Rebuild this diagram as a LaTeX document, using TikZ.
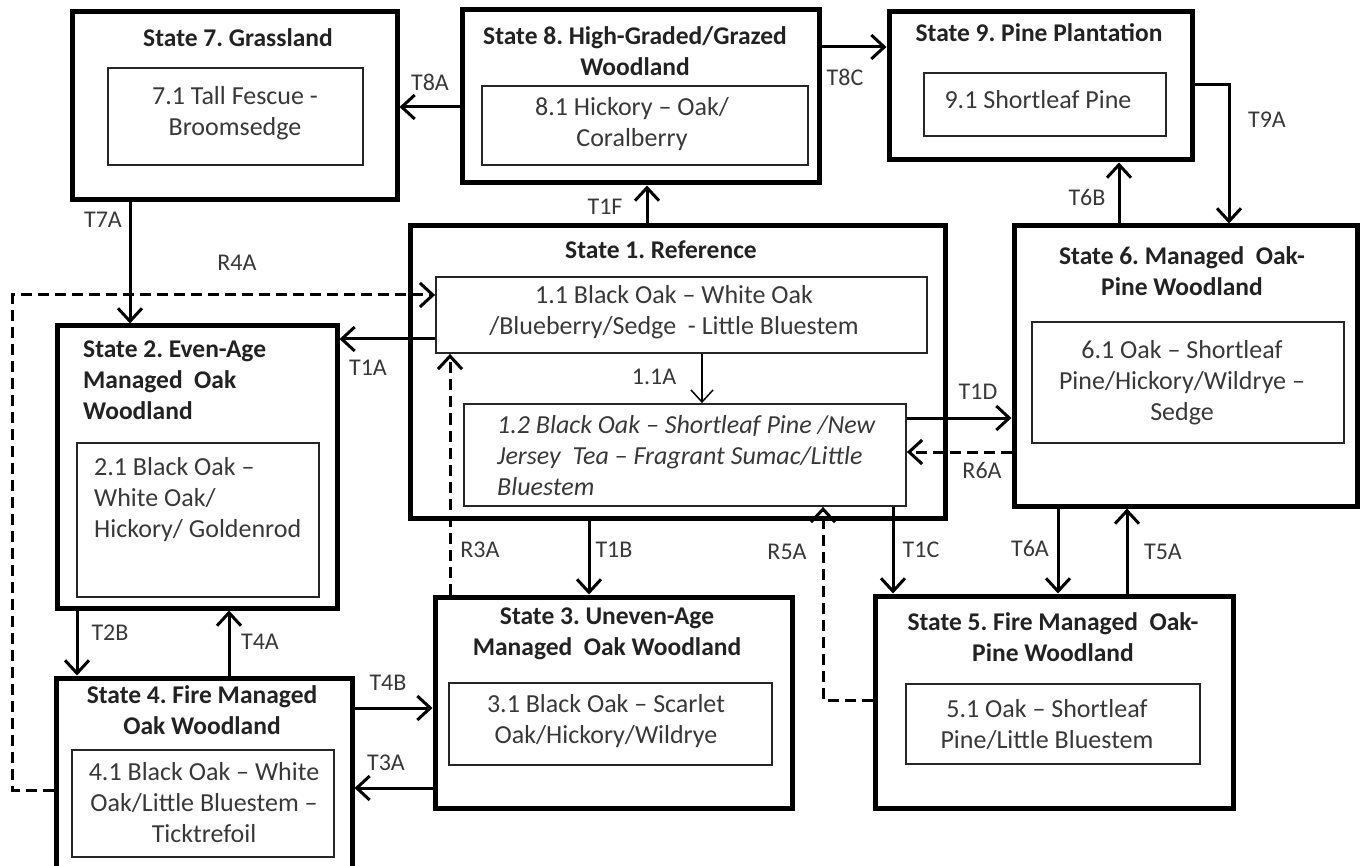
\documentclass[tikz,border=0pt]{standalone}
\usepackage{fontspec}
\setmainfont{Carlito}
\usetikzlibrary{arrows.meta,calc}
\frenchspacing
\newcommand\ttlfont{\frenchspacing\bfseries\fontsize{25.5}{31}\selectfont}
\newcommand\txtfont{\frenchspacing\fontsize{26}{31}\selectfont}
\newcommand\lblfont{\fontsize{24}{28}\selectfont}
\definecolor{ink}{HTML}{222222}
\definecolor{txtgray}{HTML}{383838}
\tikzset{
  outerbox/.style={draw=black, line width=5pt, rectangle, inner sep=0pt, fill=white},
  innerbox/.style={draw=black!85, line width=1.8pt, rectangle, inner sep=0pt},
  ttl/.style={font=\ttlfont, align=center, text=ink, inner sep=0pt},
  txt/.style={font=\txtfont, align=center, text=txtgray, inner sep=0pt},
  lbl/.style={font=\lblfont, text=txtgray, inner sep=0pt},
  arr/.style={line width=3pt, draw=black, -{Straight Barb[length=13pt,width=24pt,line width=3pt]}},
  darr/.style={arr, dash pattern=on 11pt off 6pt},
}
\begin{document}
\begin{tikzpicture}[x=1pt,y=-1pt]
\useasboundingbox (0,0) rectangle (1360,866);
\fill[white] (0,0) rectangle (1360,866);
\clip (0,0) rectangle (1360,866);

% ---------- boxes ----------
\node[outerbox, minimum width=325pt, minimum height=188pt] (s7) at (234.5,106) {};
\node[innerbox, minimum width=255pt, minimum height=97pt] (i7) at (235.5,116.5) {};
\node[outerbox, minimum width=357pt, minimum height=173pt] (s8) at (640.5,96.5) {};
\node[innerbox, minimum width=326pt, minimum height=79pt] (i8) at (645,125.5) {};
\node[outerbox, minimum width=303pt, minimum height=148pt] (s9) at (1040.5,86) {};
\node[innerbox, minimum width=242pt, minimum height=63pt] (i9) at (1045,104.5) {};
\node[outerbox, minimum width=535pt, minimum height=292pt] (s1) at (677.5,372) {};
\node[innerbox, minimum width=491pt, minimum height=76pt] (i11) at (681.5,315) {};
\node[innerbox, minimum width=442pt, minimum height=102pt] (i12) at (685,455) {};
\node[outerbox, minimum width=343pt, minimum height=280pt] (s6) at (1185.5,366) {};
\node[innerbox, minimum width=312pt, minimum height=121pt] (i6) at (1188,382.5) {};
\node[outerbox, minimum width=280pt, minimum height=282pt] (s2) at (197,467) {};
\node[innerbox, minimum width=242pt, minimum height=154pt] (i2) at (198,520) {};
\node[outerbox, minimum width=296pt, minimum height=202pt] (s4) at (204,779) {};
\node[innerbox, minimum width=262pt, minimum height=107pt] (i4) at (203,803.5) {};
\node[outerbox, minimum width=357pt, minimum height=211pt] (s3) at (613.5,702.5) {};
\node[innerbox, minimum width=323pt, minimum height=82pt] (i3) at (610.5,724) {};
\node[outerbox, minimum width=358pt, minimum height=212pt] (s5) at (1054,702) {};
\node[innerbox, minimum width=294pt, minimum height=80pt] (i5) at (1053,724) {};

% ---------- texts ----------
\node[ttl] (t7) at (238,38) {State 7. Grassland};
\node[txt] (x7) at (235,113.5) {7.1 Tall Fescue -\\Broomsedge};
\node[ttl] (t8) at (635,51) {State 8. High-Graded/Grazed\\Woodland};
\node[txt] (x8) at (632,124) {8.1 Hickory – Oak/\\Coralberry};
\node[ttl] (t9) at (1039,33) {State 9. Pine Plantation};
\node[txt] (x9) at (1038,100) {9.1 Shortleaf Pine};
\node[ttl] (t1) at (661,250) {State 1. Reference};
\node[txt] (x11) at (674,312.5) {1.1 Black Oak – White Oak\\/Blueberry/Sedge~ - Little Bluestem};
\node[txt, align=left, anchor=west, font=\txtfont\itshape] (x12) at (497,455.5) {1.2 Black Oak – Shortleaf Pine /New\\Jersey~ Tea – Fragrant Sumac/Little\\Bluestem};
\node[ttl] (t6) at (1182,271) {State 6. Managed~ Oak-\\Pine Woodland};
\node[txt] (x6) at (1182,383) {6.1 Oak – Shortleaf\\Pine/Hickory/Wildrye –\\Sedge};
\node[ttl, align=left, anchor=west] (t2) at (83,380) {State 2. Even-Age\\Managed~ Oak\\Woodland};
\node[txt, align=left, anchor=west] (x2) at (94,500) {2.1 Black Oak –\\White Oak/\\Hickory/ Goldenrod};
\node[ttl] (t4) at (202,710) {State 4. Fire Managed\\Oak Woodland};
\node[txt] (x4) at (204,803) {4.1 Black Oak – White\\Oak/Little Bluestem –\\Ticktrefoil};
\node[ttl] (t3) at (607,633.5) {State 3. Uneven-Age\\Managed~ Oak Woodland};
\node[txt] (x3) at (606,721) {3.1 Black Oak – Scarlet\\Oak/Hickory/Wildrye};
\node[ttl] (t5) at (1053,637.5) {State 5. Fire Managed~ Oak-\\Pine Woodland};
\node[txt] (x5) at (1047,724.5) {5.1 Oak – Shortleaf\\Pine/Little Bluestem};

% ---------- connector start points ----------
\coordinate (c8a) at ([yshift=-10.5pt]s8.west);
\coordinate (c8c) at ([yshift=49.5pt]s8.east);
\coordinate (c9a) at ([yshift=1pt]s9.east);
\coordinate (c9ae) at ([xshift=43.5pt]s6.north);
\coordinate (c6b) at ([xshift=-66.5pt]s6.north);
\coordinate (c1f) at ([xshift=-30.5pt]s1.north);
\coordinate (c7a) at ([xshift=-104.5pt]s7.south);
\coordinate (c1a) at ([yshift=-24pt]i11.west);
\coordinate (c4r) at ([yshift=-11pt]s4.west);
\coordinate (c4re) at ([yshift=20pt]i11.west);
\coordinate (c2b) at ([xshift=-120pt]s2.south);
\coordinate (c4a) at ([xshift=25pt]s4.north);
\coordinate (c4b) at ([yshift=71pt]s4.east);
\coordinate (c3a) at ([yshift=-85.5pt]s3.west);
\coordinate (c3r) at ([xshift=-163.5pt]s3.north);
\coordinate (c1b) at ([xshift=-88.5pt]s1.south);
\coordinate (c11a) at ([xshift=20.5pt]i11.south);
\coordinate (c1c) at ([xshift=208pt]i12.south);
\coordinate (c5r) at ([yshift=2pt]s5.west);
\coordinate (c5re) at ([xshift=138pt]i12.south);
\coordinate (c1d) at ([yshift=37pt]i12.east);
\coordinate (c6r) at ([yshift=-86pt]s6.west);
\coordinate (c6a) at ([xshift=-127.5pt]s6.south);
\coordinate (c5a) at ([xshift=73pt]s5.north);

% ---------- connectors ----------
\draw[arr] (c8a) -- (c8a -| s7.east);
\draw[arr] (c8c) -- (c8c -| s9.west);
\draw[arr] (c9a) -| (c9ae);
\draw[arr] (c6b) -- (c6b |- s9.south);
\draw[arr] (c1f) -- (c1f |- s8.south);
\draw[arr] (c7a) -- (c7a |- s2.north);
\draw[arr] (c1a) -- (c1a -| s2.east);
\draw[darr] (c4r) -- ++(-41pt,0pt) |- (c4re);
\draw[arr] (c2b) -- (c2b |- s4.north);
\draw[arr] (c4a) -- (c4a |- s2.south);
\draw[arr] (c4b) -- (c4b -| s3.west);
\draw[arr] (c3a) -- (c3a -| s4.east);
\draw[darr] (c3r) -- (c3r |- i11.south);
\draw[arr] (c1b) -- (c1b |- s3.north);
\draw[arr, line width=1.5pt, -{Straight Barb[length=12pt,width=22pt,line width=1.5pt]}] (c11a) -- (c11a |- i12.north);
\draw[arr] (c1c) -- (c1c |- s5.north);
\draw[darr] (c5r) -| (c5re);
\draw[arr] (c1d) -- (c1d -| s6.west);
\draw[darr] (c6r) -- (c6r -| i12.east);
\draw[arr] (c6a) -- (c6a |- s5.north);
\draw[arr] (c5a) -- (c5a |- s6.south);

% ---------- labels ----------
\node[lbl] (l8a) at (430,82) {T8A};
\node[lbl] (l8c) at (845,77) {T8C};
\node[lbl] (l9a) at (1267,120) {T9A};
\node[lbl] (l6b) at (1087,197) {T6B};
\node[lbl] (l1f) at (605,207) {T1F};
\node[lbl] (l7a) at (103,220) {T7A};
\node[lbl] (l4r) at (237,263) {R4A};
\node[lbl] (l1a) at (368,368) {T1A};
\node[lbl] (l11a) at (654,377) {1.1A};
\node[lbl] (l1d) at (978,392) {T1D};
\node[lbl] (l6r) at (982,470) {R6A};
\node[lbl] (l3r) at (480,550) {R3A};
\node[lbl] (l1b) at (614,550) {T1B};
\node[lbl] (l5r) at (787,552) {R5A};
\node[lbl] (l1c) at (921,550) {T1C};
\node[lbl] (l6a) at (1030,548) {T6A};
\node[lbl] (l5a) at (1163,552) {T5A};
\node[lbl] (l2b) at (110,633) {T2B};
\node[lbl] (l4a) at (260,642) {T4A};
\node[lbl] (l4b) at (388,683) {T4B};
\node[lbl] (l3a) at (386,763) {T3A};
\end{tikzpicture}
\end{document}
